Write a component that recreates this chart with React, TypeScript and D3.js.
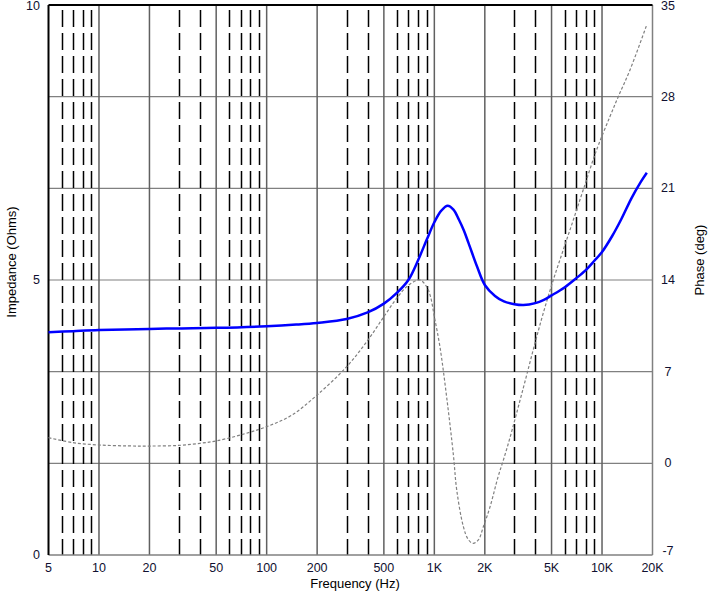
import React from "react";
import * as d3 from "d3";

// impedance curve (Hz, Ohms)
const impFreqs = [5, 7, 10, 20, 30, 50, 100, 150, 200, 300, 400, 500, 600, 700, 800, 900, 1000, 1100, 1200, 1300, 1400, 1500, 1600, 1800, 2000, 2300, 2600, 3000, 3400, 4000, 4500, 5000, 6000, 7000, 8000, 9000, 10000, 11500, 13000, 15000, 17000, 18500];
const impValues = [4.05, 4.07, 4.09, 4.11, 4.12, 4.13, 4.16, 4.19, 4.22, 4.29, 4.41, 4.57, 4.77, 5.0, 5.36, 5.73, 6.05, 6.26, 6.35, 6.28, 6.1, 5.9, 5.67, 5.24, 4.91, 4.71, 4.61, 4.56, 4.545, 4.58, 4.64, 4.72, 4.87, 5.03, 5.18, 5.35, 5.51, 5.8, 6.1, 6.49, 6.78, 6.95];

// phase curve (Hz, deg)
const phaseFreqs = [5, 7, 10, 15, 20, 30, 40, 50, 70, 100, 140, 200, 300, 400, 500, 600, 700, 820, 900, 950, 1000, 1080, 1190, 1300, 1360, 1490, 1590, 1700, 1830, 1960, 2150, 2400, 2580, 2800, 3400, 3950, 4460, 5120, 5870, 6740, 7720, 9280, 11140, 12500, 14680, 18500];
const phaseValues = [1.96, 1.58, 1.4, 1.33, 1.32, 1.37, 1.53, 1.71, 2.17, 2.8, 3.65, 5.22, 7.38, 9.38, 11.2, 12.65, 13.6, 14.0, 13.49, 12.7, 11.2, 8.9, 4.84, 0.6, -2.04, -4.84, -5.8, -6.11, -5.85, -4.84, -3.31, -1.02, 0.25, 1.78, 5.8, 9.0, 11.46, 14.0, 16.29, 18.58, 20.87, 23.93, 26.47, 28.0, 30.04, 33.5];

const freqTicks = [5, 10, 20, 50, 100, 200, 500, 1000, 2000, 5000, 10000, 20000];
const freqTickLabels = ["5", "10", "20", "50", "100", "200", "500", "1K", "2K", "5K", "10K", "20K"];
const minorFreqs = [6, 7, 8, 9, 30, 40, 60, 70, 80, 90, 300, 400, 600, 700, 800, 900, 3000, 4000, 6000, 7000, 8000, 9000];
const impTicks = [0, 5, 10];
const phaseTicks = [-7, 0, 7, 14, 21, 28, 35];

const W = 710;
const H = 595;
const left = 48.5;
const right = 652.5;
const top = 5;
const bottom = 555;

const font = "'Liberation Sans', Arial, sans-serif";
const labelColor = "#101030";

export default function App() {
  const x = d3.scaleLog().domain([5, 20000]).range([left, right]);
  const yImp = d3.scaleLinear().domain([0, 10]).range([bottom, top]);
  const yPhase = d3.scaleLinear().domain([-7, 35]).range([bottom, top]);

  const impLine = d3
    .line<number>()
    .x((d, i) => x(impFreqs[i]))
    .y((d) => yImp(d))
    .curve(d3.curveCatmullRom.alpha(0.5));

  const phaseLine = d3
    .line<number>()
    .x((d, i) => x(phaseFreqs[i]))
    .y((d) => yPhase(d))
    .curve(d3.curveCatmullRom.alpha(0.5));

  return (
    <svg
      width={W}
      height={H}
      style={{ position: "absolute", left: 0, top: 0, background: "#fff" }}
      fontFamily={font}
      fontSize={12.5}
    >
      {/* horizontal grid (phase) */}
      {phaseTicks
        .filter((t) => t > -7 && t < 35)
        .map((t) => (
          <line key={"h" + t} x1={left} x2={right} y1={yPhase(t)} y2={yPhase(t)} stroke="#808080" strokeWidth={1.2} />
        ))}
      {/* minor dashed verticals */}
      {minorFreqs.map((f) => (
        <line
          key={"m" + f}
          x1={Math.round(x(f)) + 0.5}
          x2={Math.round(x(f)) + 0.5}
          y1={top}
          y2={bottom}
          stroke="#000"
          strokeWidth={1.5}
          strokeDasharray="17,6"
          strokeDashoffset={18}
        />
      ))}
      {/* major verticals */}
      {freqTicks.slice(1, -1).map((f) => (
        <line key={"v" + f} x1={x(f)} x2={x(f)} y1={top} y2={bottom} stroke="#606060" strokeWidth={1.5} />
      ))}
      {/* frame */}
      <line x1={right} x2={right} y1={top} y2={bottom} stroke="#808080" strokeWidth={1.5} />
      <line x1={left} x2={right} y1={bottom} y2={bottom} stroke="#808080" strokeWidth={1.5} />
      <line x1={left} x2={right} y1={top} y2={top} stroke="#000" strokeWidth={2} />
      <line x1={left} x2={left} y1={top} y2={bottom} stroke="#000" strokeWidth={2} />

      {/* phase */}
      <path d={phaseLine(phaseValues) || ""} fill="none" stroke="#808080" strokeWidth={1.2} strokeDasharray="3,2" />
      {/* impedance */}
      <path d={impLine(impValues) || ""} fill="none" stroke="#0000ff" strokeWidth={2.5} />

      {/* x tick labels */}
      {freqTicks.map((f, i) => (
        <text key={"xl" + f} x={x(f)} y={572} textAnchor="middle" fill={labelColor}>
          {freqTickLabels[i]}
        </text>
      ))}
      {/* impedance labels */}
      {impTicks.map((t) => (
        <text key={"il" + t} x={40} y={Math.max(yImp(t) + 4, 10)} textAnchor="end" fill={labelColor}>
          {t}
        </text>
      ))}
      {/* phase labels */}
      {phaseTicks.map((t) => (
        <text key={"pl" + t} x={668} y={Math.max(yPhase(t) + 4 - (t === -7 ? 4 : 0), 10)} textAnchor="middle" fill={labelColor}>
          {t}
        </text>
      ))}

      <text x={355} y={588} textAnchor="middle" fill="#000" fontSize={13}>
        Frequency (Hz)
      </text>
      <text transform={`translate(16,262) rotate(-90)`} textAnchor="middle" fill="#000" fontSize={13}>
        Impedance (Ohms)
      </text>
      <text transform={`translate(704,260) rotate(-90)`} textAnchor="middle" fill="#000" fontSize={13}>
        Phase (deg)
      </text>
    </svg>
  );
}
